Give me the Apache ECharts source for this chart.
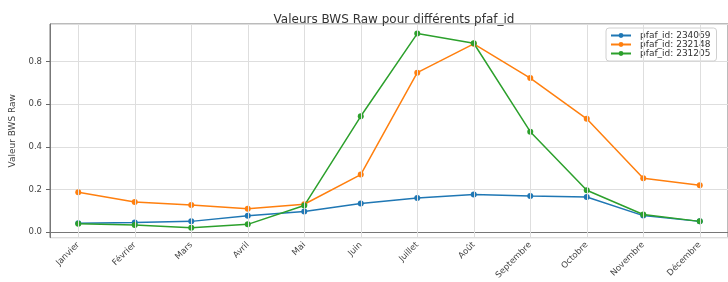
<!DOCTYPE html>
<html>
<head>
<meta charset="utf-8">
<script src="https://cdn.jsdelivr.net/npm/echarts@6/dist/echarts.min.js"></script>
<style>html,body{margin:0;padding:0;background:#fff}#c{width:728px;height:282px}</style>
</head>
<body>
<div id="c"></div>
<script>
const months = ['Janvier','Février','Mars','Avril','Mai','Juin','Juillet','Août','Septembre','Octobre','Novembre','Décembre'];
const seriesNames = ['pfaf_id: 234069','pfaf_id: 232148','pfaf_id: 231205'];
const blueValues = [0.042, 0.046, 0.051, 0.077, 0.097, 0.135, 0.160, 0.177, 0.170, 0.165, 0.078, 0.051];
const orangeValues = [0.187, 0.142, 0.128, 0.110, 0.131, 0.270, 0.747, 0.882, 0.722, 0.531, 0.253, 0.220];
const greenValues = [0.040, 0.034, 0.021, 0.037, 0.125, 0.543, 0.930, 0.885, 0.471, 0.197, 0.083, 0.051];
const colors = ['#1f77b4','#ff7f0e','#2ca02c'];
const FONT = 'DejaVu Sans';

const chart = echarts.init(document.getElementById('c'), null, {renderer:'canvas'});
const mk = (name, data, color) => ({
  name, type:'line', data, z:3,
  symbol:'circle', symbolSize:6, showSymbol:true,
  lineStyle:{color, width:1.5}, itemStyle:{color},
  emphasis:{disabled:true}, animation:false
});
chart.setOption({
  animation:false,
  textStyle:{fontFamily:FONT},
  title:{text:'Valeurs BWS Raw pour différents pfaf_id', left:389, textAlign:'center', top:9,
    textStyle:{fontSize:12, fontWeight:'normal', color:'#333', fontFamily:FONT}},
  grid:{left:49, top:24, width:680, height:223, show:true, borderColor:'#777', borderWidth:1, containLabel:false},
  legend:{data:seriesNames, orient:'vertical', left:606, top:28, itemWidth:20, itemHeight:6, itemGap:0,
    backgroundColor:'rgba(255,255,255,0.85)', borderColor:'#d0d0d0', borderWidth:1, borderRadius:3,
    padding:[3,6,3,4],
    textStyle:{fontSize:9, lineHeight:8.3, color:'#333', fontFamily:FONT, padding:[0,0,0,4]}},
  xAxis:{type:'category', data:months, boundaryGap:true,
    axisLine:{show:true, lineStyle:{color:'#777'}},
    axisTick:{show:true, alignWithLabel:true, length:4, inside:false, lineStyle:{color:'#666'}},
    axisLabel:{rotate:45, fontSize:8.5, color:'#444', margin:6, interval:0, fontFamily:FONT},
    splitLine:{show:false}},
  yAxis:{type:'value', min:-0.025, max:0.975, splitNumber:5,
    name:'Valeur BWS Raw', nameLocation:'middle', nameGap:33, nameRotate:90,
    nameTextStyle:{fontSize:9, color:'#444', fontFamily:FONT},
    axisLine:{show:true, lineStyle:{color:'#777'}},
    axisTick:{show:true, length:4, lineStyle:{color:'#666'}},
    axisLabel:{fontSize:8.5, color:'#444', margin:8, fontFamily:FONT, showMinLabel:false, showMaxLabel:false,
      formatter:v => (Math.abs(v*5 - Math.round(v*5)) < 1e-6 ? v.toFixed(1) : '')},
    splitLine:{show:true, lineStyle:{color:'#dedede', width:1}}},
  series:[
    {name:'grid-x', type:'line', data:[], z:1, silent:true, animation:false,
     markLine:{silent:true, symbol:'none', animation:false, label:{show:false},
       lineStyle:{color:'#dedede', width:1, type:'solid'}, emphasis:{disabled:true},
       data:months.map(m => ({xAxis:m}))}},
    mk(seriesNames[0], blueValues, colors[0]),
    mk(seriesNames[1], orangeValues, colors[1]),
    mk(seriesNames[2], greenValues, colors[2])
  ]
});
</script>
</body>
</html>
